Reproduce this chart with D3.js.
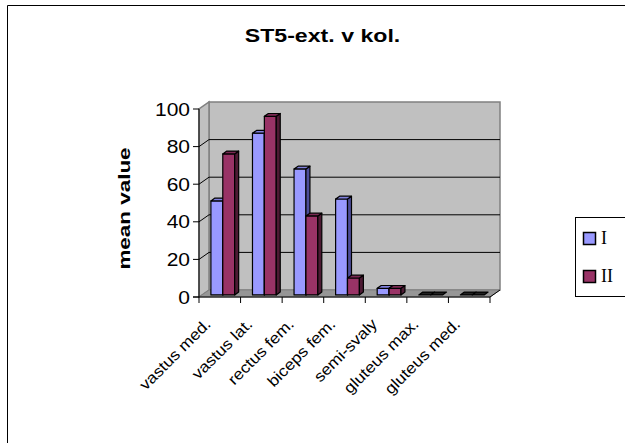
<!DOCTYPE html>
<html>
<head>
<meta charset="utf-8">
<script src="https://cdn.jsdelivr.net/npm/d3@7"></script>
<style>
  body { margin: 0; background: #fff; overflow: hidden; }
  svg { display: block; }
  text { font-family: "Liberation Sans", Arial, sans-serif; fill: #000; }
</style>
</head>
<body>
<div id="chart"></div>
<script>
const categories = ['vastus med.', 'vastus lat.', 'rectus fem.', 'biceps fem.', 'semi-svaly', 'gluteus max.', 'gluteus med.'];
const seriesNames = ['I', 'II'];
const seriesI = [50, 86, 67, 51, 3.5, 0, 0];
const seriesII = [75, 95, 42, 9, 3.5, 0, 0];
const yTicks = [0, 20, 40, 60, 80, 100];

const W = 625, H = 443;
const sx = 1.2; // the picture's text is wider than the font's own shape

const svg = d3.select('#chart').append('svg')
    .attr('width', W)
    .attr('height', H);

// outer frame: only the top and left edge are inside the picture
svg.append('path')
    .attr('d', `M7.5,${H}V5.5H${W}`)
    .attr('fill', 'none')
    .attr('stroke', '#000')
    .attr('stroke-width', 1);

// front plane of the 3D box, plus the depth offset to the back wall
const plotL = 199, plotR = 490, plotB = 297, plotT = 109;
const dX = 10, dY = -7;

const x = d3.scaleBand().domain(categories).range([plotL, plotR]);
const xs = d3.scaleBand().domain(seriesNames).range([0, x.bandwidth()])
    .paddingInner(0).paddingOuter(0.75);
const y = d3.scaleLinear().domain([0, 100]).range([plotB, plotT]);

const pts = p => p.map(d => d.join(',')).join(' ');

// walls
const g = svg.append('g');
g.append('polygon') // back wall
    .attr('points', pts([[plotL + dX, y(0) + dY], [plotR + dX, y(0) + dY], [plotR + dX, y(100) + dY], [plotL + dX, y(100) + dY]]))
    .attr('fill', '#c0c0c0').attr('stroke', '#808080').attr('stroke-width', 1.5);
g.append('polygon') // side wall
    .attr('points', pts([[plotL, y(0)], [plotL + dX, y(0) + dY], [plotL + dX, y(100) + dY], [plotL, y(100)]]))
    .attr('fill', '#c0c0c0').attr('stroke', '#808080').attr('stroke-width', 1.5);
g.append('polygon') // floor
    .attr('points', pts([[plotL, y(0)], [plotR, y(0)], [plotR + dX, y(0) + dY], [plotL + dX, y(0) + dY]]))
    .attr('fill', '#969696').attr('stroke', '#808080').attr('stroke-width', 1);

// gridlines on back and side wall
yTicks.filter(t => t > 0 && t < 100).forEach(t => {
    g.append('polyline')
        .attr('points', pts([[plotL, y(t)], [plotL + dX, y(t) + dY], [plotR + dX, y(t) + dY]]))
        .attr('fill', 'none').attr('stroke', '#000').attr('stroke-width', 1);
});

// bars
const f0 = 0.3, f1 = 0.7;
const series = [
    {name: 'I', values: seriesI, front: '#9999ff', topc: '#8080dd', side: '#4d4d99'},
    {name: 'II', values: seriesII, front: '#993366', topc: '#7a2952', side: '#4d1a33'}
];

categories.forEach((c, i) => {
    series.forEach(s => {
        const v = s.values[i];
        const x0 = x(c) + xs(s.name), x1 = x0 + xs.bandwidth();
        const ox = f0 * dX, oy = f0 * dY, bx = f1 * dX, by = f1 * dY;
        const yt = y(v) + oy, yb = y(0) + oy, dd = by - oy;
        const bar = svg.append('g')
            .attr('stroke', '#000').attr('stroke-width', 1.2).attr('stroke-linejoin', 'round');
        if (v > 0) {
            bar.append('polygon')
                .attr('points', pts([[x0 + ox, yt], [x1 + ox, yt], [x1 + ox, yb], [x0 + ox, yb]]))
                .attr('fill', s.front);
            bar.append('polygon')
                .attr('points', pts([[x1 + ox, yt], [x1 + bx, yt + dd], [x1 + bx, yb + dd], [x1 + ox, yb]]))
                .attr('fill', s.side);
        }
        bar.append('polygon')
            .attr('points', pts([[x0 + ox, yt], [x1 + ox, yt], [x1 + bx, yt + dd], [x0 + bx, yt + dd]]))
            .attr('fill', v > 0 ? s.topc : '#222');
    });
});

// value axis
const ax = svg.append('g').attr('stroke', '#000').attr('stroke-width', 1);
ax.append('line').attr('x1', plotL).attr('x2', plotL).attr('y1', y(0)).attr('y2', y(100));
yTicks.forEach(t => {
    ax.append('line').attr('x1', plotL - 6).attr('x2', plotL).attr('y1', y(t)).attr('y2', y(t));
});
// category axis
ax.append('line').attr('x1', plotL - 6).attr('x2', plotR).attr('y1', y(0)).attr('y2', y(0));
ax.append('line').attr('x1', plotR).attr('x2', plotR + dX).attr('y1', y(0)).attr('y2', y(0) + dY);
d3.range(categories.length + 1).forEach(i => {
    const xx = plotL + i * x.step();
    ax.append('line').attr('x1', xx).attr('x2', xx).attr('y1', y(0)).attr('y2', y(0) + 6);
});

// tick labels
svg.selectAll('.ylab').data(yTicks).enter().append('text')
    .attr('class', 'ylab')
    .attr('text-anchor', 'end')
    .attr('font-size', 17.5)
    .attr('transform', d => `translate(${plotL - 9},${y(d) + 6.5}) scale(${sx},1)`)
    .text(d => d);

svg.selectAll('.xlab').data(categories).enter().append('text')
    .attr('class', 'xlab')
    .attr('text-anchor', 'end')
    .attr('font-size', 15.5)
    .attr('transform', d => `translate(${x(d) + x.bandwidth() / 2 - 8},${y(0) + 28}) rotate(-45) scale(1.12,1)`)
    .text(d => d);

// title
svg.append('text')
    .attr('text-anchor', 'middle')
    .attr('font-size', 18.5)
    .attr('font-weight', 'bold')
    .attr('transform', `translate(322.5,41.5) scale(1.25,1)`)
    .text('ST5-ext. v kol.');

// axis title
svg.append('text')
    .attr('text-anchor', 'middle')
    .attr('font-size', 17)
    .attr('font-weight', 'bold')
    .attr('transform', `translate(130,208.5) rotate(-90) scale(1.32,1)`)
    .text('mean value');

// legend
const lg = svg.append('g');
lg.append('rect')
    .attr('x', 575.5).attr('y', 217.5).attr('width', 70).attr('height', 79)
    .attr('fill', '#fff').attr('stroke', '#000').attr('stroke-width', 1);
series.forEach((s, i) => {
    lg.append('rect')
        .attr('x', 583.5).attr('y', 232.5 + i * 38).attr('width', 12).attr('height', 12)
        .attr('fill', s.front).attr('stroke', '#000').attr('stroke-width', 1.5);
    lg.append('text')
        .attr('x', 601).attr('y', 244 + i * 38)
        .attr('font-size', 18)
        .style('font-family', '"Liberation Serif", "Times New Roman", serif')
        .text(s.name);
});
</script>
</body>
</html>
